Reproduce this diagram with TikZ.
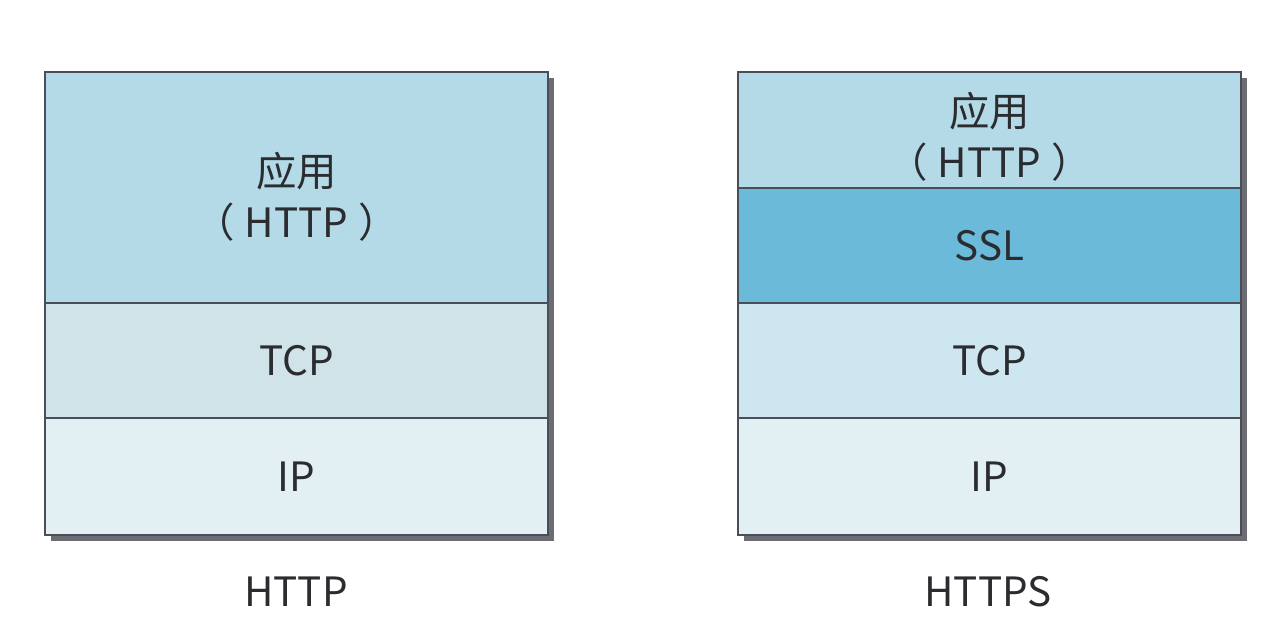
\documentclass[tikz,border=0pt]{standalone}
\usepackage{fontspec}
\setmainfont{Noto Sans CJK SC}
\usetikzlibrary{positioning, backgrounds}
\definecolor{edge}{RGB}{74,78,88}
\definecolor{ink}{RGB}{42,44,48}
\definecolor{shadowc}{RGB}{108,108,114}
\definecolor{appfill}{RGB}{179,218,230}
\definecolor{sslfill}{RGB}{107,186,218}
\definecolor{tcpleft}{RGB}{207,227,233}
\definecolor{tcpright}{RGB}{206,230,240}
\definecolor{ipfill}{RGB}{227,240,243}
\newcommand{\appname}{（\hspace{0.2cm}HTTP\hspace{0.2cm}）}

\begin{document}
\begin{tikzpicture}[
      x=0.02cm, y=-0.02cm,
      layer/.style={rectangle, draw=edge, line width=1pt, outer sep=0pt,
                    inner sep=0pt, minimum width=10.06cm, text=ink,
                    font=\fontsize{23}{29}\selectfont, align=center},
      caption/.style={text=ink, font=\fontsize{23}{27}\selectfont}
    ]
    \useasboundingbox (0,0) rectangle (1288,640);
    % HTTP
    \node[layer, fill=appfill, minimum height=4.62cm, anchor=north west] (happ) at (45,72) {\rule{0pt}{1.05cm}应用\\\appname};
    \node[layer, fill=tcpleft, minimum height=2.3cm, below=0pt of happ] (htcp) {TCP};
    \node[layer, fill=ipfill, minimum height=2.34cm, below=0pt of htcp] (hip) {IP};
    \node[caption] (hcap) at (296,592) {HTTP};
    % HTTPS
    \node[layer, fill=appfill, minimum height=2.32cm, anchor=north west] (sapp) at (738,72) {\rule{0pt}{0.95cm}应用\\\appname};
    \node[layer, fill=sslfill, minimum height=2.3cm, below=0pt of sapp] (sssl) {SSL};
    \node[layer, fill=tcpright, minimum height=2.3cm, below=0pt of sssl] (stcp) {TCP};
    \node[layer, fill=ipfill, minimum height=2.34cm, below=0pt of stcp] (sip) {IP};
    \node[caption] (scap) at (988,592) {HTTPS};
    \begin{scope}[on background layer]
      \fill[shadowc] ([shift={(6,6)}]happ.north west) rectangle ([shift={(6,6)}]hip.south east);
      \fill[shadowc] ([shift={(6,6)}]sapp.north west) rectangle ([shift={(6,6)}]sip.south east);
    \end{scope}
  \end{tikzpicture}
\end{document}
